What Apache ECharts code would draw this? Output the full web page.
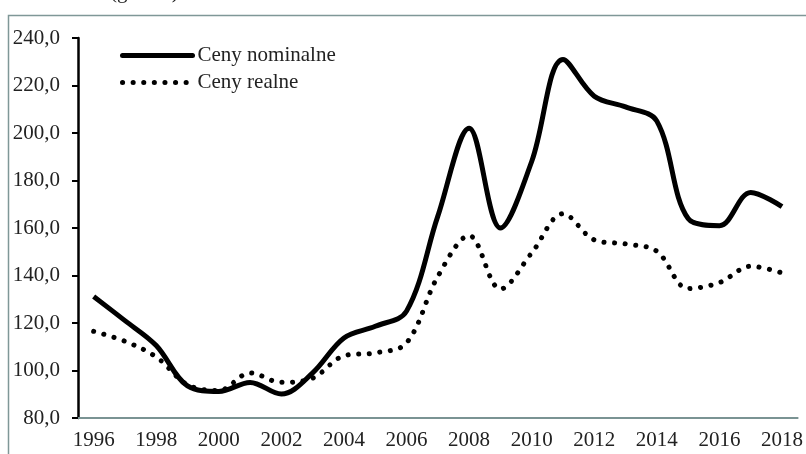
<!DOCTYPE html>
<html>
<head>
<meta charset="utf-8">
<script src="https://cdn.jsdelivr.net/npm/echarts@6/dist/echarts.min.js"></script>
<style>
  html, body { margin: 0; padding: 0; background: #fff; }
  #chart { width: 806px; height: 454px; }
</style>
</head>
<body>
<div id="chart"></div>
<script>
// lata
const years = ['1996', '1997', '1998', '1999', '2000', '2001', '2002', '2003', '2004', '2005', '2006', '2007',
  '2008', '2009', '2010', '2011', '2012', '2013', '2014', '2015', '2016', '2017', '2018']

// ceny nominalne
const nominal = [131.2, 121.0, 110.5, 93.5, 91.2, 95.0, 90.1, 99.0, 113.7, 118.6, 125.0, 165.0,
  202.0, 160.0, 188.0, 231.0, 215.5, 211.0, 205.0, 164.0, 161.0, 175.0, 169.0]

// ceny realne
const real = [116.5, 112.3, 105.7, 94.0, 91.6, 99.0, 95.0, 96.8, 106.2, 107.4, 111.6, 139.6,
  156.8, 134.3, 149.5, 166.0, 155.0, 153.3, 150.2, 134.5, 137.0, 143.9, 141.1]

const font = 'Liberation Serif'

const drawEcharts = (option, id) => {
  let dom = document.getElementById(id)
  let echart = echarts.init(dom)
  option && echart.setOption(option)
}

const option = {
  animation: false,
  backgroundColor: '#fff',
  textStyle: { fontFamily: font },
  graphic: [
    {
      type: 'rect',
      silent: true,
      shape: { x: 8.5, y: 15.5, width: 900, height: 500 },
      style: { fill: 'none', stroke: '#7f9797', lineWidth: 1.5 }
    },
    {
      type: 'text',
      silent: true,
      x: 110,
      y: 3,
      style: { text: '(grosze)', font: '21px "Liberation Serif"', fill: '#222', verticalAlign: 'bottom' }
    }
  ],
  grid: { left: 78, right: 8, top: 38, bottom: 36 },
  legend: {
    orient: 'vertical',
    left: 115,
    top: 40,
    itemWidth: 70,
    itemHeight: 20,
    itemGap: 6,
    itemStyle: { opacity: 0 },
    lineStyle: { width: 5, cap: 'round' },
    textStyle: { fontFamily: font, fontSize: 21, color: '#222' },
    data: ['Ceny nominalne', 'Ceny realne']
  },
  xAxis: {
    type: 'category',
    data: years,
    boundaryGap: true,
    axisLine: { lineStyle: { color: '#7a9393', width: 2 } },
    axisTick: { interval: 0, length: 6, lineStyle: { color: '#7a9393', width: 1.5 } },
    axisLabel: { interval: 1, color: '#222', fontFamily: font, fontSize: 21, margin: 12 },
    splitLine: { show: false }
  },
  yAxis: {
    type: 'value',
    min: 80,
    max: 240,
    interval: 20,
    axisLine: { show: true, lineStyle: { color: '#000', width: 2.5 } },
    axisTick: { show: true, length: 6, lineStyle: { color: '#000', width: 2 } },
    axisLabel: {
      color: '#222', fontFamily: font, fontSize: 21, margin: 18,
      formatter: v => v.toFixed(1).replace('.', ',')
    },
    splitLine: { show: false }
  },
  series: [
    {
      name: 'Ceny nominalne',
      type: 'line',
      data: nominal,
      smooth: 0.35,
      symbol: 'none',
      lineStyle: { color: '#000', width: 5 },
      itemStyle: { color: '#000' }
    },
    {
      name: 'Ceny realne',
      type: 'line',
      data: real,
      smooth: 0.35,
      symbol: 'none',
      lineStyle: { color: '#000', width: 5, type: [0.1, 10.5], cap: 'round' },
      itemStyle: { color: '#000' }
    }
  ]
}

drawEcharts(option, 'chart')
</script>
</body>
</html>
